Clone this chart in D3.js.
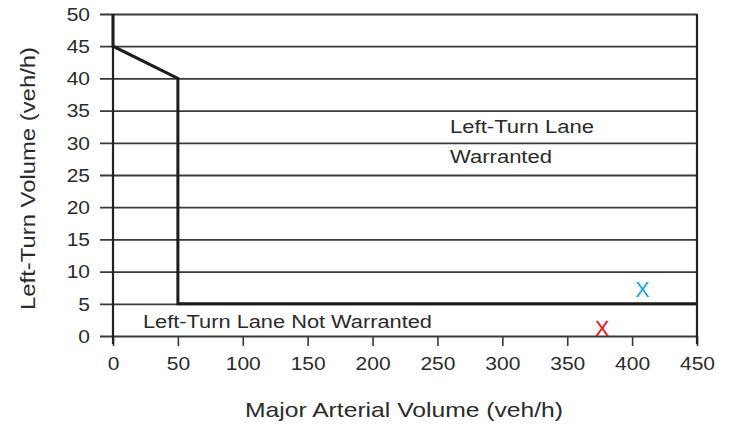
<!DOCTYPE html>
<html>
<head>
<meta charset="utf-8">
<script src="https://cdn.jsdelivr.net/npm/d3@7/dist/d3.min.js"></script>
<style>
  html, body { margin: 0; padding: 0; background: #fff; }
  svg { display: block; }
  text { font-family: "Liberation Sans", Arial, Helvetica, sans-serif; fill: #2b2b2b; }
</style>
</head>
<body>
<svg id="chart" width="734" height="425"></svg>
<script>
// Axis ticks
const xTicks = [0, 50, 100, 150, 200, 250, 300, 350, 400, 450];
const yTicks = [0, 5, 10, 15, 20, 25, 30, 35, 40, 45, 50];

// Warrant boundary: major arterial volume vs. left-turn volume
const boundaryX = [0, 0, 50, 50, 450];
const boundaryY = [50, 45, 40, 5, 5];

// Observed conditions
const obsX = [408, 377];
const obsY = [7.3, 1.2];
const obsColor = ["#1aa6e6", "#ee1111"];

const svg = d3.select("#chart");
const plotLeft = 113, plotRight = 697, plotTop = 14, plotBottom = 336;

const x = d3.scaleLinear().domain([0, 450]).range([plotLeft, plotRight]);
const y = d3.scaleLinear().domain([0, 50]).range([plotBottom, plotTop]);
const gridLen = plotRight - plotLeft + 13;

// Widen a text run horizontally by factor k (or to an exact width)
function widen(sel, k, width) {
  sel.each(function () {
    const w = width || this.getComputedTextLength() * k;
    d3.select(this).attr("textLength", w).attr("lengthAdjust", "spacingAndGlyphs");
  });
}

// Horizontal grid lines + left tick marks
const yAxis = d3.axisLeft(y).tickValues(yTicks).tickSize(0).tickFormat(d3.format("d"));
const gy = svg.append("g").attr("transform", `translate(${plotRight},0)`).call(yAxis);
gy.select(".domain").remove();
gy.selectAll(".tick line").attr("stroke", "#3a3a3a").attr("stroke-width", 1.8).attr("x1", 0).attr("x2", -gridLen);
gy.selectAll(".tick text").attr("x", -(plotRight - 90)).attr("font-size", 17.5).attr("text-anchor", "end").attr("dy", "0.36em");
widen(gy.selectAll(".tick text"), 1.2);

// Bottom axis with tick marks below the baseline
const xAxis = d3.axisBottom(x).tickValues(xTicks).tickSize(10).tickPadding(12).tickFormat(d3.format("d"));
const gx = svg.append("g").attr("transform", `translate(0,${plotBottom})`).call(xAxis);
gx.select(".domain").remove();
gx.selectAll(".tick line").attr("stroke", "#3a3a3a").attr("stroke-width", 1.6);
gx.selectAll(".tick text").attr("font-size", 17.5);
widen(gx.selectAll(".tick text"), 1.2);

// Frame: left axis and right edge
svg.append("line").attr("x1", x(0)).attr("x2", x(0)).attr("y1", y(50)).attr("y2", plotBottom + 8)
  .attr("stroke", "#222").attr("stroke-width", 2.2);
svg.append("line").attr("x1", x(450)).attr("x2", x(450)).attr("y1", y(50)).attr("y2", plotBottom + 8)
  .attr("stroke", "#222").attr("stroke-width", 2.2);

// Boundary curve
const line = d3.line().x(d => x(d[0])).y(d => y(d[1]));
svg.append("path")
  .datum(boundaryX.map((v, i) => [v, boundaryY[i]]))
  .attr("d", line)
  .attr("fill", "none").attr("stroke", "#1c1c1c").attr("stroke-width", 3);

// Region labels
const lbl = svg.append("g").attr("font-size", 17.5);
widen(lbl.append("text").attr("x", 450).attr("y", 133).text("Left-Turn Lane"), 1, 144);
widen(lbl.append("text").attr("x", 450).attr("y", 163).text("Warranted"), 1, 102);
widen(lbl.append("text").attr("x", 143).attr("y", 328).text("Left-Turn Lane Not Warranted"), 1, 289);

// Observation markers
svg.append("g").selectAll("text.obs")
  .data(obsX.map((v, i) => ({ v, w: obsY[i], c: obsColor[i] })))
  .join("text")
  .attr("class", "obs")
  .attr("x", d => x(d.v)).attr("y", d => y(d.w))
  .attr("dy", "0.36em")
  .attr("text-anchor", "middle")
  .attr("font-size", 21.5)
  .style("fill", d => d.c)
  .text("X");

// Axis titles
widen(svg.append("text").attr("x", 245).attr("y", 417)
  .attr("font-size", 21).text("Major Arterial Volume (veh/h)"), 1, 318);
widen(svg.append("text").attr("transform", "translate(35,310) rotate(-90)")
  .attr("font-size", 20).text("Left-Turn Volume (veh/h)"), 1, 263);
</script>
</body>
</html>
